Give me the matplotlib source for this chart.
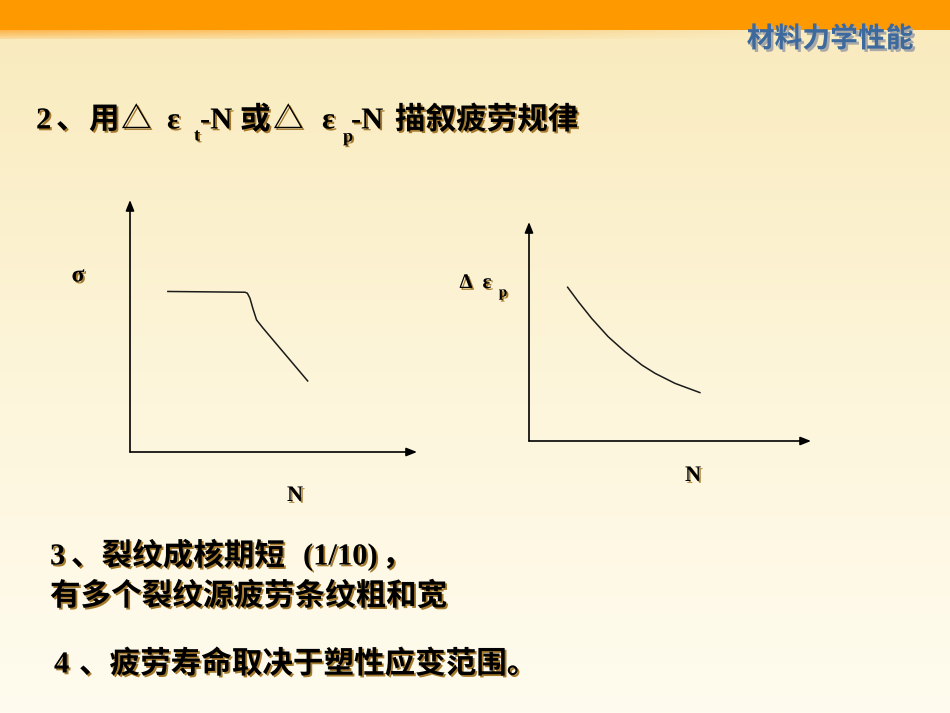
import numpy as np
import matplotlib
matplotlib.use('Agg')
import matplotlib.pyplot as plt
import matplotlib.patheffects as pe
from matplotlib.colors import LinearSegmentedColormap, to_rgb
from matplotlib.patches import Rectangle

# ---------------- data (schematic curves, axis units 0..100) ----------------
sn_N = [13.2, 40.1, 40.9, 41.8, 42.8, 44.1, 46.4, 61.9]
sn_S = [63.7, 63.4, 63.0, 61.0, 57.0, 52.4, 49.1, 28.2]

ep_N = [13.7, 17.5, 22.2, 28.1, 34.0, 40.0, 44.7, 51.8, 60.6]
ep_E = [70.2, 63.6, 56.0, 47.6, 40.8, 34.7, 30.9, 26.3, 22.1]

header = "材料力学性能"
line3a = [("3", 50), ("、裂纹成核期短", 71), ("(1/10)", 303), ("，", 382)]
line3b = "有多个裂纹源疲劳条纹粗和宽"
line4 = [("4", 54), ("、疲劳寿命取决于塑性应变范围。", 79)]

W, H = 950, 713
fig = plt.figure(figsize=(9.5, 7.13), dpi=100)

CJK = ['Liberation Serif', 'Noto Sans CJK SC', 'DejaVu Sans']
SHADOW = '#A67A2C'
shadow = [pe.withSimplePatchShadow(offset=(1.3, -1.3), shadow_rgbFace=SHADOW, alpha=1.0)]

# ---------------- background ----------------
bg = fig.add_axes([0, 0, 1, 1], zorder=0)
bg.set_xlim(0, W)
bg.set_ylim(H, 0)
bg.axis('off')
grad = np.linspace(0, 1, 256).reshape(-1, 1)
cmap = LinearSegmentedColormap.from_list('bg', ['#F9EBBE', '#FDF5DA', '#FFFCEF'])
bg.imshow(grad, extent=[0, W, H, 30], cmap=cmap, aspect='auto', zorder=0)
bg.add_patch(Rectangle((0, 0), W, 30, color='#FF9900', zorder=1, lw=0))
# light band under orange bar fading to the right
band = np.zeros((10, 400, 4))
c = to_rgb('#FDB54A')
band[..., 0], band[..., 1], band[..., 2] = c
fade_x = np.linspace(1, 0, 400) ** 0.8
fade_y = np.linspace(1, 0.3, 10).reshape(-1, 1)
band[..., 3] = fade_x * fade_y
bg.imshow(band, extent=[0, 760, 39, 30], aspect='auto', zorder=1)

# header
bg.text(830, 39, header, ha='center', va='center', fontsize=20, fontweight='bold',
        family=['Noto Sans CJK SC'], color='#3D6A9E', zorder=3,
        path_effects=[pe.withSimplePatchShadow(offset=(1.8, -1.8), shadow_rgbFace='#A8A8A8', alpha=1.0)])

# ---------------- title ----------------
tkw = dict(fontsize=22, family=CJK, fontweight='bold', color='black', va='center', ha='left',
           zorder=3, path_effects=shadow)
ty = 121
title_parts = [("2", 36, 0, 22), ("、", 56, 0, 22), ("用", 89, 0, 22), ("△", 121, 0, 22),
               ("ε", 167, 0, 22), ("t", 194, 15, 13), ("-N", 200, 0, 22), ("或", 240, 0, 22),
               ("△", 273, 0, 22), ("ε", 322, 0, 22), ("p", 343, 16, 13), ("-N", 351, 0, 22),
               ("描叙疲劳规律", 395, 0, 22)]
for s, x, dy, fs in title_parts:
    kw = dict(tkw)
    kw['fontsize'] = fs
    bg.text(x, ty + dy, s, **kw)

# ---------------- bottom text ----------------
bkw = dict(fontsize=22, family=CJK, fontweight='bold', color='black', va='center', ha='left',
           zorder=3, path_effects=shadow)
for s, x in line3a:
    bg.text(x, 557, s, **bkw)
bg.text(50, 597, line3b, **bkw)
for s, x in line4:
    bg.text(x, 665, s, **bkw)

# ---------------- plot labels ----------------
lkw = dict(family=['Liberation Serif', 'DejaVu Serif'], fontweight='bold', color='black',
           va='center', ha='center', zorder=3, path_effects=shadow)
bg.text(78, 276, "σ", fontsize=17, **lkw)
bg.text(295, 496, "N", fontsize=16, **lkw)
bg.text(693, 476, "N", fontsize=16, **lkw)
bg.text(466, 283, "Δ", fontsize=15, **lkw)
bg.text(487, 283, "ε", fontsize=15, **lkw)
bg.text(503, 293, "p", fontsize=11, **lkw)


def sketch_axes(rect):
    ax = fig.add_axes(rect, zorder=2)
    ax.set_xlim(0, 100)
    ax.set_ylim(0, 100)
    ax.axis('off')
    ax.patch.set_alpha(0)
    ap = dict(arrowstyle='-|>,head_length=0.45,head_width=0.18', color='black', lw=1.2,
              shrinkA=0, shrinkB=0, mutation_scale=14)
    ax.annotate('', xy=(100, 0), xytext=(0, 0), arrowprops=ap, annotation_clip=False)
    ax.annotate('', xy=(0, 100), xytext=(0, 0), arrowprops=ap, annotation_clip=False)
    return ax


ax1 = sketch_axes([130 / W, 1 - 452 / H, 287 / W, 252 / H])
ax1.plot(sn_N, sn_S, color='#1a1a1a', lw=1.1, solid_joinstyle='round', clip_on=False)

ax2 = sketch_axes([529 / W, 1 - 441 / H, 282 / W, 219 / H])
ax2.plot(ep_N, ep_E, color='#1a1a1a', lw=1.1, solid_joinstyle='round', clip_on=False)

fig.savefig('out.png', dpi=100)
